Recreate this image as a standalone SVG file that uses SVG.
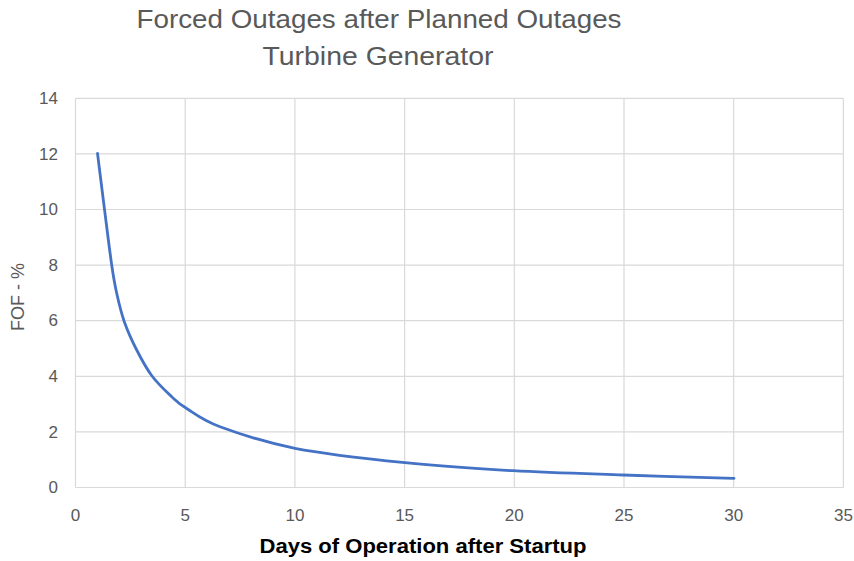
<svg xmlns="http://www.w3.org/2000/svg" width="854" height="561" viewBox="0 0 854 561">
  <style>
    .grid { stroke: #d9d9d9; stroke-width: 1.2; fill: none; }
    .tick { font-family: "Liberation Sans", Arial, sans-serif; font-size: 17px; fill: #595959; }
    .title { font-family: "Liberation Sans", Arial, sans-serif; font-size: 26px; fill: #595959; }
    .xlabel { font-family: "Liberation Sans", Arial, sans-serif; font-size: 20px; font-weight: bold; fill: #000000; }
    .ylabel { font-family: "Liberation Sans", Arial, sans-serif; font-size: 18px; fill: #595959; }
    .series { stroke: #4472c4; stroke-width: 2.8; fill: none; stroke-linecap: round; stroke-linejoin: round; }
  </style>
  <rect width="854" height="561" fill="#ffffff"/>

  <!-- Chart title -->
  <g id="title">
    <text class="title" x="379" y="28" text-anchor="middle" textLength="485" lengthAdjust="spacingAndGlyphs">Forced Outages after Planned Outages</text>
    <text class="title" x="378" y="65" text-anchor="middle" textLength="231" lengthAdjust="spacingAndGlyphs">Turbine Generator</text>
  </g>

  <!-- Gridlines -->
  <g id="gridlines">
    <line class="grid" x1="75.5" y1="98.3" x2="843.4" y2="98.3"/>
    <line class="grid" x1="75.5" y1="153.9" x2="843.4" y2="153.9"/>
    <line class="grid" x1="75.5" y1="209.5" x2="843.4" y2="209.5"/>
    <line class="grid" x1="75.5" y1="265.1" x2="843.4" y2="265.1"/>
    <line class="grid" x1="75.5" y1="320.7" x2="843.4" y2="320.7"/>
    <line class="grid" x1="75.5" y1="376.3" x2="843.4" y2="376.3"/>
    <line class="grid" x1="75.5" y1="431.9" x2="843.4" y2="431.9"/>
    <line class="grid" x1="75.5" y1="487.5" x2="843.4" y2="487.5"/>
    <line class="grid" x1="75.5" y1="98.3" x2="75.5" y2="487.5"/>
    <line class="grid" x1="185.2" y1="98.3" x2="185.2" y2="487.5"/>
    <line class="grid" x1="294.9" y1="98.3" x2="294.9" y2="487.5"/>
    <line class="grid" x1="404.6" y1="98.3" x2="404.6" y2="487.5"/>
    <line class="grid" x1="514.3" y1="98.3" x2="514.3" y2="487.5"/>
    <line class="grid" x1="624.0" y1="98.3" x2="624.0" y2="487.5"/>
    <line class="grid" x1="733.7" y1="98.3" x2="733.7" y2="487.5"/>
    <line class="grid" x1="843.4" y1="98.3" x2="843.4" y2="487.5"/>
  </g>

  <!-- Y axis tick labels -->
  <g id="y-ticks" text-anchor="end">
    <text class="tick" x="58" y="104">14</text>
    <text class="tick" x="58" y="159.6">12</text>
    <text class="tick" x="58" y="215.2">10</text>
    <text class="tick" x="58" y="270.8">8</text>
    <text class="tick" x="58" y="326.4">6</text>
    <text class="tick" x="58" y="382">4</text>
    <text class="tick" x="58" y="437.6">2</text>
    <text class="tick" x="58" y="493.2">0</text>
  </g>

  <!-- X axis tick labels -->
  <g id="x-ticks" text-anchor="middle">
    <text class="tick" x="75.5" y="521">0</text>
    <text class="tick" x="185.2" y="521">5</text>
    <text class="tick" x="294.9" y="521">10</text>
    <text class="tick" x="404.6" y="521">15</text>
    <text class="tick" x="514.3" y="521">20</text>
    <text class="tick" x="624.0" y="521">25</text>
    <text class="tick" x="733.7" y="521">30</text>
    <text class="tick" x="843.4" y="521">35</text>
  </g>

  <!-- Axis titles -->
  <g id="axis-titles">
    <text class="xlabel" x="423" y="553" text-anchor="middle" textLength="327" lengthAdjust="spacingAndGlyphs">Days of Operation after Startup</text>
    <text class="ylabel" x="0" y="0" text-anchor="middle" transform="translate(24 297) rotate(-90)">FOF - %</text>
  </g>

  <!-- FOF series -->
  <g id="series">
    <path class="series" d="M97.5,153.3 C98.67,162.63 102.13,190.68 104.5,209.3 C106.87,227.92 109.67,251 111.7,265 C113.73,279 114.6,283.85 116.7,293.3 C118.8,302.75 120.97,312.25 124.3,321.7 C127.63,331.15 132.08,340.95 136.7,350 C141.32,359.05 146.17,368.22 152,376 C157.83,383.78 165.92,391.28 171.7,396.7 C177.48,402.12 178.65,403.5 186.7,408.5 C194.75,413.5 201.95,420.07 220,426.7 C238.05,433.33 264.17,442.3 295,448.3 C325.83,454.3 368.67,458.97 405,462.7 C441.33,466.43 476.67,468.65 513,470.7 C549.33,472.75 586.17,473.73 623,475 C659.83,476.27 715.5,477.75 734,478.3"/>
  </g>
</svg>
